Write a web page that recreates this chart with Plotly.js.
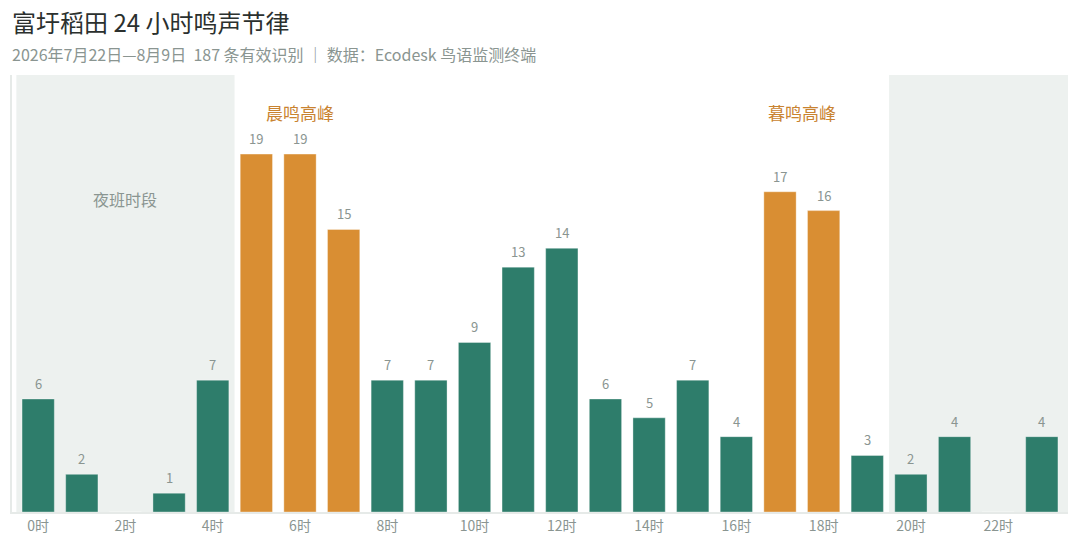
<!DOCTYPE html>
<html>
<head>
<meta charset="utf-8">
<script src="https://cdn.plot.ly/plotly-3.0.1.min.js"></script>
<style>html,body{margin:0;padding:0;background:#fff;}#chart{width:1080px;height:546px;}</style>
</head>
<body>
<div id="chart"></div>
<script>
const hours = [0,1,2,3,4,5,6,7,8,9,10,11,12,13,14,15,16,17,18,19,20,21,22,23];
const counts = [6,2,0,1,7,19,19,15,7,7,9,13,14,6,5,7,4,17,16,3,2,4,0,4];
const peakHours = [5,6,7,17,18];
const tickVals = [0,2,4,6,8,10,12,14,16,18,20,22];
const tickText = tickVals.map(h => h + '时');
const titleText = '富圩稻田 24 小时鸣声节律';
const subtitleText = '2026年7月22日—8月9日  187 条有效识别 ｜ 数据：Ecodesk 鸟语监测终端';
const nightLabel = '夜班时段';
const morningLabel = '晨鸣高峰';
const eveningLabel = '暮鸣高峰';

const GREEN = '#2e7d6b', ORANGE = '#d98e33', GRAY = '#8a9591', SHADE = '#edf1ef', PEAKTXT = '#c98330';
const FONT = '"Noto Sans CJK SC", "Noto Sans", sans-serif';

const colors = hours.map(h => peakHours.includes(h) ? ORANGE : GREEN);

const trace = {
  type: 'bar', x: hours, y: counts, width: 0.74,
  marker: {color: colors, line: {color: 'rgba(255,255,255,0.35)', width: 1}},
  hoverinfo: 'x+y'
};

const valueAnns = hours.filter((h, i) => counts[i] > 0).map(h => ({
  x: h, y: counts[h], xref: 'x', yref: 'y', text: String(counts[h]),
  showarrow: false, yanchor: 'bottom', yshift: 4,
  font: {family: FONT, size: 13, color: GRAY}
}));

const layout = {
  width: 1080, height: 546,
  margin: {l: 12, r: 12, t: 75, b: 34},
  paper_bgcolor: '#fff', plot_bgcolor: 'rgba(0,0,0,0)',
  font: {family: FONT, color: GRAY},
  showlegend: false,
  xaxis: {
    range: [-0.6, 23.6], tickmode: 'array', tickvals: tickVals, ticktext: tickText,
    showgrid: false, zeroline: false, showline: true, linecolor: '#e6eae8', linewidth: 2,
    ticks: '', tickfont: {family: FONT, size: 14, color: GRAY}, fixedrange: true
  },
  yaxis: {
    range: [0, 23.2], showgrid: false, zeroline: false, showticklabels: false,
    showline: true, linecolor: '#e6eae8', linewidth: 2, ticks: '', fixedrange: true
  },
  shapes: [
    {type: 'rect', xref: 'x', yref: 'paper', x0: -0.5, x1: 4.5, y0: 0, y1: 1, fillcolor: SHADE, line: {width: 0}, layer: 'below'},
    {type: 'rect', xref: 'x', yref: 'paper', x0: 19.5, x1: 23.6, y0: 0, y1: 1, fillcolor: SHADE, line: {width: 0}, layer: 'below'}
  ],
  annotations: [
    {xref: 'paper', yref: 'paper', x: 0, y: 1, xanchor: 'left', yanchor: 'middle',
     yshift: 75 - 21, xshift: -2,
     text: titleText, showarrow: false, font: {family: FONT, size: 24, color: '#2b302e'}},
    {xref: 'paper', yref: 'paper', x: 0, y: 1, xanchor: 'left', yanchor: 'middle',
     yshift: 75 - 54, xshift: -2,
     text: subtitleText, showarrow: false, font: {family: FONT, size: 16, color: GRAY}},
    {x: 2, y: 16.6, xref: 'x', yref: 'y', text: nightLabel, showarrow: false,
     font: {family: FONT, size: 16, color: GRAY}},
    {x: 6, y: 21.2, xref: 'x', yref: 'y', text: morningLabel, showarrow: false,
     font: {family: FONT, size: 17, color: PEAKTXT}},
    {x: 17.5, y: 21.2, xref: 'x', yref: 'y', text: eveningLabel, showarrow: false,
     font: {family: FONT, size: 17, color: PEAKTXT}}
  ].concat(valueAnns)
};

Plotly.newPlot('chart', [trace], layout, {displayModeBar: false, staticPlot: true});
</script>
</body>
</html>
